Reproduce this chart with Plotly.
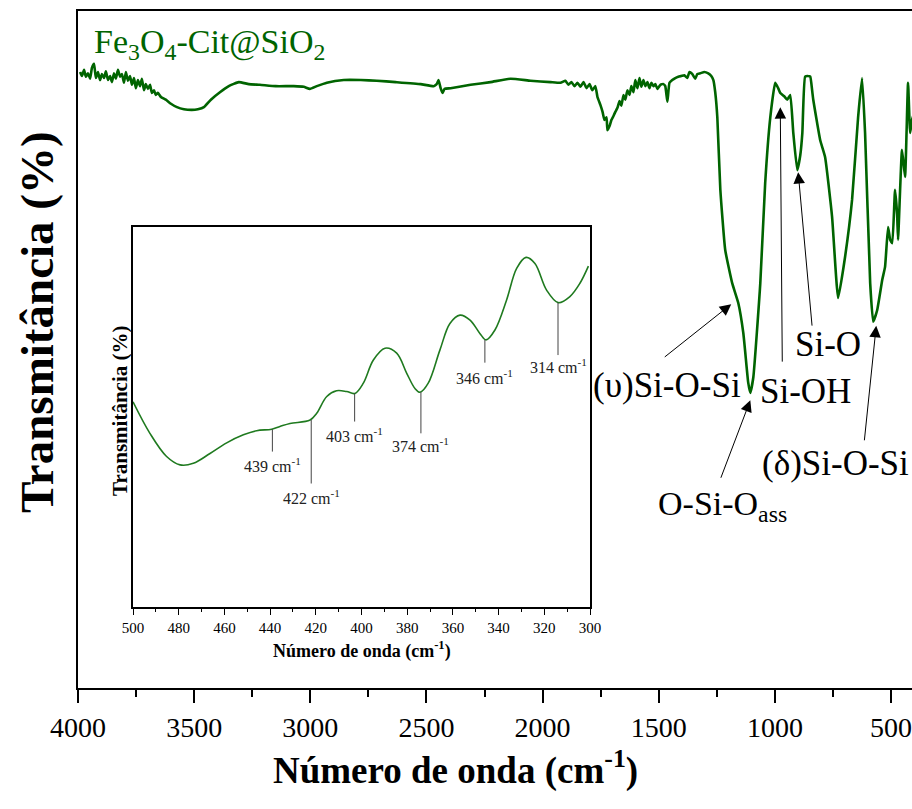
import plotly.graph_objects as go

# ---------------- main spectrum (FTIR) ----------------
wavenumber = [3991, 3983, 3974, 3966, 3957, 3948, 3940, 3931, 3923, 3914, 3905, 3897, 3888, 3880,
              3871, 3862, 3854, 3845, 3837, 3828, 3819, 3811, 3802, 3794, 3785, 3776, 3768, 3759,
              3751, 3742, 3733, 3725, 3716, 3708, 3699, 3690, 3682, 3673, 3665, 3656, 3643, 3622,
              3600, 3574, 3544, 3510, 3484, 3458, 3428, 3389, 3351, 3308, 3265, 3217, 3149, 3071,
              3028, 3002, 2972, 2929, 2856, 2783, 2714, 2633, 2525, 2469, 2456, 2448, 2439, 2431,
              2422, 2396, 2310, 2224, 2138, 2052, 1966, 1923, 1902, 1889, 1876, 1863, 1850, 1837,
              1824, 1811, 1798, 1786, 1773, 1764, 1751, 1742, 1734, 1725, 1721, 1712, 1704, 1695,
              1687, 1678, 1669, 1661, 1652, 1644, 1635, 1626, 1618, 1609, 1601, 1592, 1583, 1575,
              1566, 1558, 1549, 1540, 1532, 1523, 1515, 1506, 1493, 1480, 1472, 1463, 1454, 1442,
              1429, 1416, 1403, 1390, 1377, 1368, 1356, 1343, 1334, 1321, 1304, 1287, 1274, 1265,
              1257, 1248, 1235, 1214, 1184, 1158, 1136, 1115, 1106, 1093, 1063, 1042, 1020, 999,
              986, 977, 960, 947, 934, 921, 904, 891, 882, 870, 857, 848, 840, 835, 805, 784, 754,
              728, 698, 668, 642, 625, 612, 590, 577, 560, 538, 526, 513, 504, 495, 483, 474, 470,
              453, 440, 427, 418, 410, 400]
transmittance = [91.0, 90.4, 91.3, 90.3, 90.8, 90.0, 91.6, 92.2, 90.1, 91.0, 89.8, 90.7, 90.1, 91.1,
                 89.8, 90.4, 89.5, 90.8, 90.0, 91.3, 90.3, 90.7, 89.4, 91.0, 89.7, 90.4, 89.1, 90.1,
                 88.6, 89.8, 88.9, 90.0, 88.3, 89.2, 88.5, 89.1, 87.9, 88.3, 87.6, 87.9, 87.3, 86.9,
                 86.3, 85.8, 85.5, 85.4, 85.5, 85.8, 86.9, 88.0, 88.9, 89.5, 89.2, 89.1, 88.9, 88.9,
                 88.8, 88.5, 88.9, 89.4, 89.8, 89.8, 89.7, 89.5, 89.2, 88.9, 89.2, 89.8, 88.6, 87.9,
                 88.5, 88.6, 89.1, 89.5, 90.0, 89.7, 89.5, 89.4, 89.7, 89.1, 89.5, 88.9, 89.4, 88.8,
                 89.5, 88.6, 89.2, 88.3, 88.9, 87.3, 86.1, 85.1, 83.9, 84.3, 82.4, 83.0, 83.9, 84.5,
                 85.1, 85.7, 86.7, 86.0, 87.6, 86.9, 88.3, 87.6, 88.9, 88.0, 89.8, 88.6, 90.1, 88.8,
                 89.8, 88.9, 89.5, 88.6, 89.4, 88.9, 89.2, 88.5, 89.1, 89.2, 88.9, 86.6, 89.4, 89.8,
                 90.1, 90.3, 90.4, 90.5, 90.1, 91.0, 90.7, 90.0, 90.7, 90.8, 91.0, 90.8, 90.4, 89.8,
                 88.0, 84.3, 73.6, 64.7, 59.8, 56.9, 52.4, 45.1, 43.6, 45.9, 59.8, 74.6, 84.3, 89.4,
                 88.6, 87.9, 87.4, 86.9, 87.6, 82.0, 76.5, 78.7, 82.0, 90.3, 90.4, 90.3, 88.3, 86.9,
                 80.9, 78.4, 69.6, 57.6, 63.7, 72.1, 84.3, 90.1, 82.0, 59.8, 54.1, 55.8, 60.3, 62.2,
                 68.1, 66.2, 65.7, 73.6, 69.9, 66.2, 79.5, 75.5, 89.4, 82.0, 83.9, 85.0]

main_ticks = [4000, 3500, 3000, 2500, 2000, 1500, 1000, 500]

# ---------------- inset (far IR) ----------------
inset_wn = [500.0, 492.6, 485.3, 479.4, 473.6, 466.3, 459.0, 451.7, 445.9, 439.3, 435.7, 431.3,
            422.5, 419.6, 415.2, 410.9, 406.5, 402.9, 399.2, 394.8, 389.7, 384.6, 380.2, 376.6,
            374.4, 370.8, 365.7, 361.3, 356.9, 352.5, 348.2, 345.5, 341.6, 336.5, 332.1, 328.0,
            324.1, 319.0, 313.9, 308.8, 304.4, 300.7]
inset_t = [54.0, 45.7, 39.6, 37.4, 37.8, 40.4, 43.2, 45.3, 46.4, 46.8, 47.5, 48.3,
           49.2, 51.0, 55.4, 56.9, 56.7, 56.2, 58.9, 65.0, 68.1, 66.8, 61.5, 57.5,
           56.5, 58.9, 67.6, 74.6, 76.8, 75.5, 72.0, 70.3, 72.9, 80.8, 89.1, 92.0,
           90.4, 83.4, 80.1, 81.7, 85.2, 89.7]

inset_peaks = [439, 422, 403, 374, 346, 314]
peak_top = [46.8, 49.2, 56.2, 56.5, 70.3, 80.1]
peak_bottom = [40.9, 32.5, 48.8, 45.7, 64.3, 66.3]
label_y = [37.4, 29.0, 45.3, 42.6, 60.6, 63.5]

SERIF = "Liberation Serif"
GREEN = "#006400"

fig = go.Figure()
fig.add_trace(go.Scatter(x=wavenumber, y=transmittance, mode="lines",
                         line=dict(color=GREEN, width=2.6, shape="spline", smoothing=0.4),
                         xaxis="x", yaxis="y", showlegend=False, hoverinfo="skip"))
fig.add_trace(go.Scatter(x=inset_wn, y=inset_t, mode="lines",
                         line=dict(color="#1f7a1f", width=1.6, shape="spline", smoothing=1.0),
                         xaxis="x2", yaxis="y2", showlegend=False, hoverinfo="skip"))

shapes = []
annotations = []
for wn, top, bot, ly in zip(inset_peaks, peak_top, peak_bottom, label_y):
    shapes.append(dict(type="line", xref="x2", yref="y2", x0=wn, x1=wn, y0=top, y1=bot,
                       line=dict(color="#444444", width=1)))
    annotations.append(dict(xref="x2", yref="y2", x=wn, y=ly, showarrow=False,
                            text=f"{wn} cm<sup>-1</sup>",
                            font=dict(family=SERIF, size=16, color="#222222")))

# main-plot text labels
def lab(text, x, y, size=35, color="black", xanchor="left"):
    annotations.append(dict(xref="paper", yref="paper", x=x / 912, y=1 - y / 809,
                            xanchor=xanchor, yanchor="middle", showarrow=False, text=text,
                            font=dict(family=SERIF, size=size, color=color)))

lab("Fe<sub>3</sub>O<sub>4</sub>-Cit@SiO<sub>2</sub>", 92, 44, size=34, color=GREEN)
lab("(υ)Si-O-Si", 591, 385)
lab("Si-OH", 758, 391)
lab("Si-O", 793, 345)
lab("O-Si-O<sub>ass</sub>", 656, 506, size=34)
lab("(δ)Si-O-Si", 760, 463)

# arrows (head on the spectrum, tail near the labels)
arrows = [(1188, 56.7, -68, 54), (977, 85.8, 2, 256), (900, 76.2, 14, 155),
          (1106, 42.5, -30, 79), (564, 53.5, -12, 116)]
for hx, hy, ax, ay in arrows:
    annotations.append(dict(xref="x", yref="y", x=hx, y=hy, ax=ax, ay=ay, text="",
                            showarrow=True, arrowhead=2, arrowsize=2.3, arrowwidth=1,
                            arrowcolor="black", standoff=0))

# axis titles
annotations.append(dict(xref="paper", yref="paper", x=455 / 912, y=1 - 768 / 809,
                        xanchor="center", yanchor="middle", showarrow=False,
                        text="<b>Número de onda (cm<sup>-1</sup>)</b>",
                        font=dict(family=SERIF, size=37, color="black")))
annotations.append(dict(xref="paper", yref="paper", x=37 / 912, y=1 - 322 / 809,
                        xanchor="center", yanchor="middle", showarrow=False, textangle=-90,
                        text="<b>Transmitância (%)</b>",
                        font=dict(family=SERIF, size=47, color="black")))
annotations.append(dict(xref="paper", yref="paper", x=362 / 912, y=1 - 650 / 809,
                        xanchor="center", yanchor="middle", showarrow=False,
                        text="<b>Número de onda (cm<sup>-1</sup>)</b>",
                        font=dict(family=SERIF, size=18, color="black")))
annotations.append(dict(xref="paper", yref="paper", x=120 / 912, y=1 - 411 / 809,
                        xanchor="center", yanchor="middle", showarrow=False, textangle=-90,
                        text="<b>Transmitância (%)</b>",
                        font=dict(family=SERIF, size=21, color="black")))

fig.update_layout(
    width=912, height=809,
    margin=dict(l=0, r=0, t=0, b=0, autoexpand=False),
    paper_bgcolor="white", plot_bgcolor="white",
    font=dict(family=SERIF, color="black"),
    xaxis=dict(domain=[78 / 912, 1.0], range=[4000, 410], tickvals=main_ticks,
               automargin=False, ticklabeloverflow="allow",
               showline=True, linecolor="black", linewidth=2, mirror=True,
               ticks="outside", ticklen=13, tickwidth=2, tickcolor="black",
               minor=dict(dtick=250, ticks="outside", ticklen=7, tickwidth=2, tickcolor="black"),
               showgrid=False, zeroline=False,
               tickfont=dict(family=SERIF, size=28, color="black")),
    yaxis=dict(domain=[1 - 688 / 809, 1 - 11 / 809], range=[0, 100], automargin=False,
               showline=True, linecolor="black", linewidth=2, mirror=False,
               showticklabels=False, ticks="", showgrid=False, zeroline=False),
    xaxis2=dict(domain=[133 / 912, 590 / 912], range=[500, 300], anchor="y2", automargin=False,
                ticklabeloverflow="allow",
                dtick=20, showline=True, linecolor="black", linewidth=1.5, mirror=True,
                ticks="outside", ticklen=6, tickwidth=1, tickcolor="black",
                minor=dict(dtick=10, ticks="outside", ticklen=3, tickwidth=1, tickcolor="black"),
                showgrid=False, zeroline=False,
                tickfont=dict(family=SERIF, size=15, color="black")),
    yaxis2=dict(domain=[1 - 607 / 809, 1 - 227 / 809], range=[0, 100], anchor="x2",
                automargin=False,
                showline=True, linecolor="black", linewidth=1.5, mirror=True,
                showticklabels=False, ticks="", showgrid=False, zeroline=False),
    shapes=shapes,
    annotations=annotations,
)

fig.write_html("out.html")
